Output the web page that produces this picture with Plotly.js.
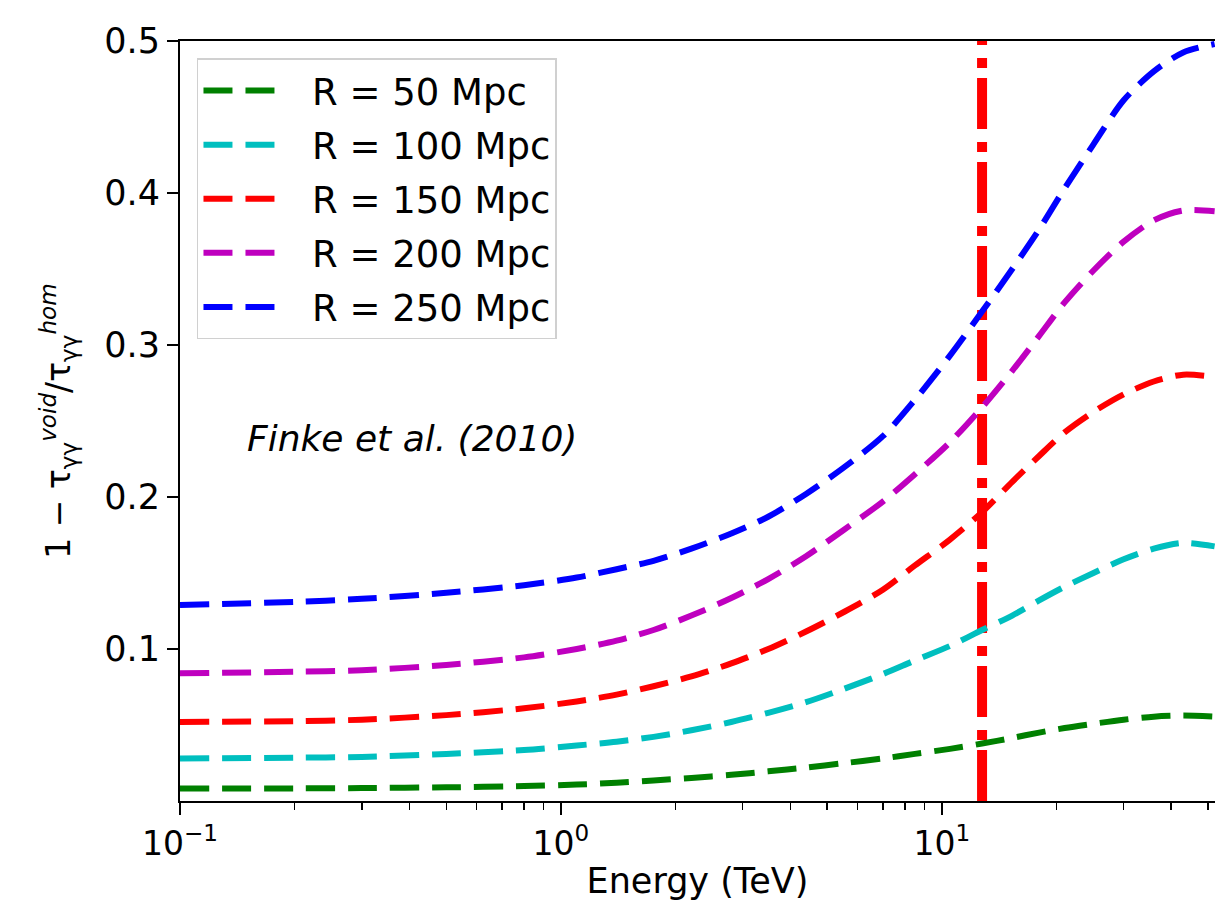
<!DOCTYPE html>
<html>
<head>
<meta charset="utf-8">
<script src="https://cdn.plot.ly/plotly-3.0.1.min.js"></script>
<style>html,body{margin:0;padding:0;background:#fff;overflow:hidden}</style>
</head>
<body>
<div id="chart" style="width:1215px;height:901px"></div>
<script>
// Energy grid (TeV)
const energy = [0.1, 0.2, 0.3, 0.5, 0.8, 1.1, 1.4, 1.75, 2.2, 2.8, 3.5, 4.4, 5.5, 7, 8.5, 10.5, 12.75, 15.3, 18, 21, 25, 30, 36, 43, 52];
// 1 - tau_void / tau_hom for each void radius
const r50  = [0.0082, 0.0083, 0.0085, 0.0090, 0.0098, 0.0108, 0.0120, 0.0135, 0.0152, 0.0172, 0.0195, 0.0220, 0.0248, 0.0280, 0.0310, 0.0343, 0.0378, 0.0415, 0.0450, 0.0480, 0.0508, 0.0535, 0.0555, 0.0562, 0.0555];
const r100 = [0.0280, 0.0285, 0.0290, 0.0310, 0.0335, 0.0365, 0.0390, 0.0422, 0.0465, 0.0520, 0.0580, 0.0650, 0.0735, 0.0835, 0.0925, 0.1020, 0.1125, 0.1220, 0.1320, 0.1410, 0.1500, 0.1590, 0.1660, 0.1698, 0.1675];
const r150 = [0.0520, 0.0525, 0.0535, 0.0565, 0.0610, 0.0655, 0.0700, 0.0755, 0.0820, 0.0905, 0.1000, 0.1115, 0.1240, 0.1390, 0.1550, 0.1720, 0.1900, 0.2100, 0.2270, 0.2425, 0.2560, 0.2675, 0.2760, 0.2805, 0.2790];
const r200 = [0.0840, 0.0850, 0.0860, 0.0895, 0.0945, 0.1000, 0.1055, 0.1125, 0.1220, 0.1335, 0.1460, 0.1610, 0.1780, 0.1970, 0.2150, 0.2360, 0.2590, 0.2830, 0.3060, 0.3280, 0.3490, 0.3680, 0.3820, 0.3885, 0.3880];
const r250 = [0.1290, 0.1310, 0.1330, 0.1370, 0.1420, 0.1470, 0.1525, 0.1580, 0.1660, 0.1760, 0.1870, 0.2020, 0.2190, 0.2400, 0.2640, 0.2930, 0.3220, 0.3500, 0.3760, 0.4030, 0.4320, 0.4610, 0.4800, 0.4925, 0.4980];
const seriesNames = ['R = 50 Mpc', 'R = 100 Mpc', 'R = 150 Mpc', 'R = 200 Mpc', 'R = 250 Mpc'];
const seriesColors = ['#008000', '#00bfbf', '#ff0000', '#bf00bf', '#0000ff'];
const seriesValues = [r50, r100, r150, r200, r250];
// vertical marker energy (TeV)
const markerEnergy = [12.75];
const yTickVals = [0.1, 0.2, 0.3, 0.4, 0.5];
const yRange = [0, 0.5];
const xTickVals = [0.1, 1, 10];
const xTickText = ['10<sup>−1</sup>', '10<sup>0</sup>', '10<sup>1</sup>'];
const xMinorVals = [0.2, 0.3, 0.4, 0.5, 0.6, 0.7, 0.8, 0.9, 2, 3, 4, 5, 6, 7, 8, 9, 20, 30, 40, 50];

const FONT = 'DejaVu Sans, sans-serif';
const NBSP = '\u00a0\u00a0';
const traces = [];
traces.push({
  x: [markerEnergy[0], markerEnergy[0]], y: [yRange[0], yRange[1]],
  mode: 'lines', showlegend: false, hoverinfo: 'skip',
  line: {color: '#ff0000', width: 10, dash: '51px,10px,10px,13px'}
});
seriesValues.forEach((vals, i) => {
  traces.push({
    x: energy, y: vals, name: NBSP + seriesNames[i], mode: 'lines', legendgroup: 'g' + i,
    line: {color: seriesColors[i], width: 6, dash: '29px,13px', shape: 'spline', smoothing: 0.8}
  });
});

const layout = {
  width: 1215, height: 901,
  margin: {l: 180, r: 0, t: 41, b: 100, pad: 0},
  paper_bgcolor: '#ffffff', plot_bgcolor: '#ffffff',
  font: {family: FONT, size: 35, color: '#000'},
  showlegend: true,
  legend: {
    x: 0.0164, y: 0.977, xanchor: 'left', yanchor: 'top',
    bgcolor: 'rgba(255,255,255,0.8)', bordercolor: '#d0d0d0', borderwidth: 1.5,
    font: {family: FONT, size: 37, color: '#000'},
    itemwidth: 80, traceorder: 'grouped', tracegroupgap: 3
  },
  xaxis: {
    type: 'log', range: [-1, 1.717], showgrid: false, zeroline: false,
    showline: true, linecolor: '#000', linewidth: 2, mirror: true,
    ticks: 'outside', ticklen: 12, tickwidth: 2, tickcolor: '#000',
    tickvals: xTickVals, ticktext: xTickText,
    tickfont: {family: FONT, size: 33},
    minor: {ticks: 'outside', ticklen: 7, tickwidth: 1.5, tickcolor: '#000', tickvals: xMinorVals, showgrid: false},
    title: {text: 'Energy (TeV)', font: {family: FONT, size: 35}, standoff: 6}
  },
  yaxis: {
    range: yRange, showgrid: false, zeroline: false,
    showline: true, linecolor: '#000', linewidth: 2, mirror: false,
    ticks: 'outside', ticklen: 11, tickwidth: 2, tickcolor: '#000',
    tickvals: yTickVals, ticktext: yTickVals.map(v => v.toFixed(1)),
    tickfont: {family: FONT, size: 35},
    title: {text: '1 − τ<sub>γγ</sub><sup><i>void</i></sup>/τ<sub>γγ</sub><sup><i>hom</i></sup>', font: {family: FONT, size: 33}, standoff: 24}
  },
  annotations: [{
    xref: 'paper', yref: 'paper', x: 0.224, y: 0.477, xanchor: 'center', yanchor: 'middle',
    text: '<i>Finke et al. (2010)</i>', showarrow: false,
    font: {family: FONT, size: 36, color: '#000'}
  }]
};

Plotly.newPlot('chart', traces, layout, {displayModeBar: false, staticPlot: true});
</script>
</body>
</html>
